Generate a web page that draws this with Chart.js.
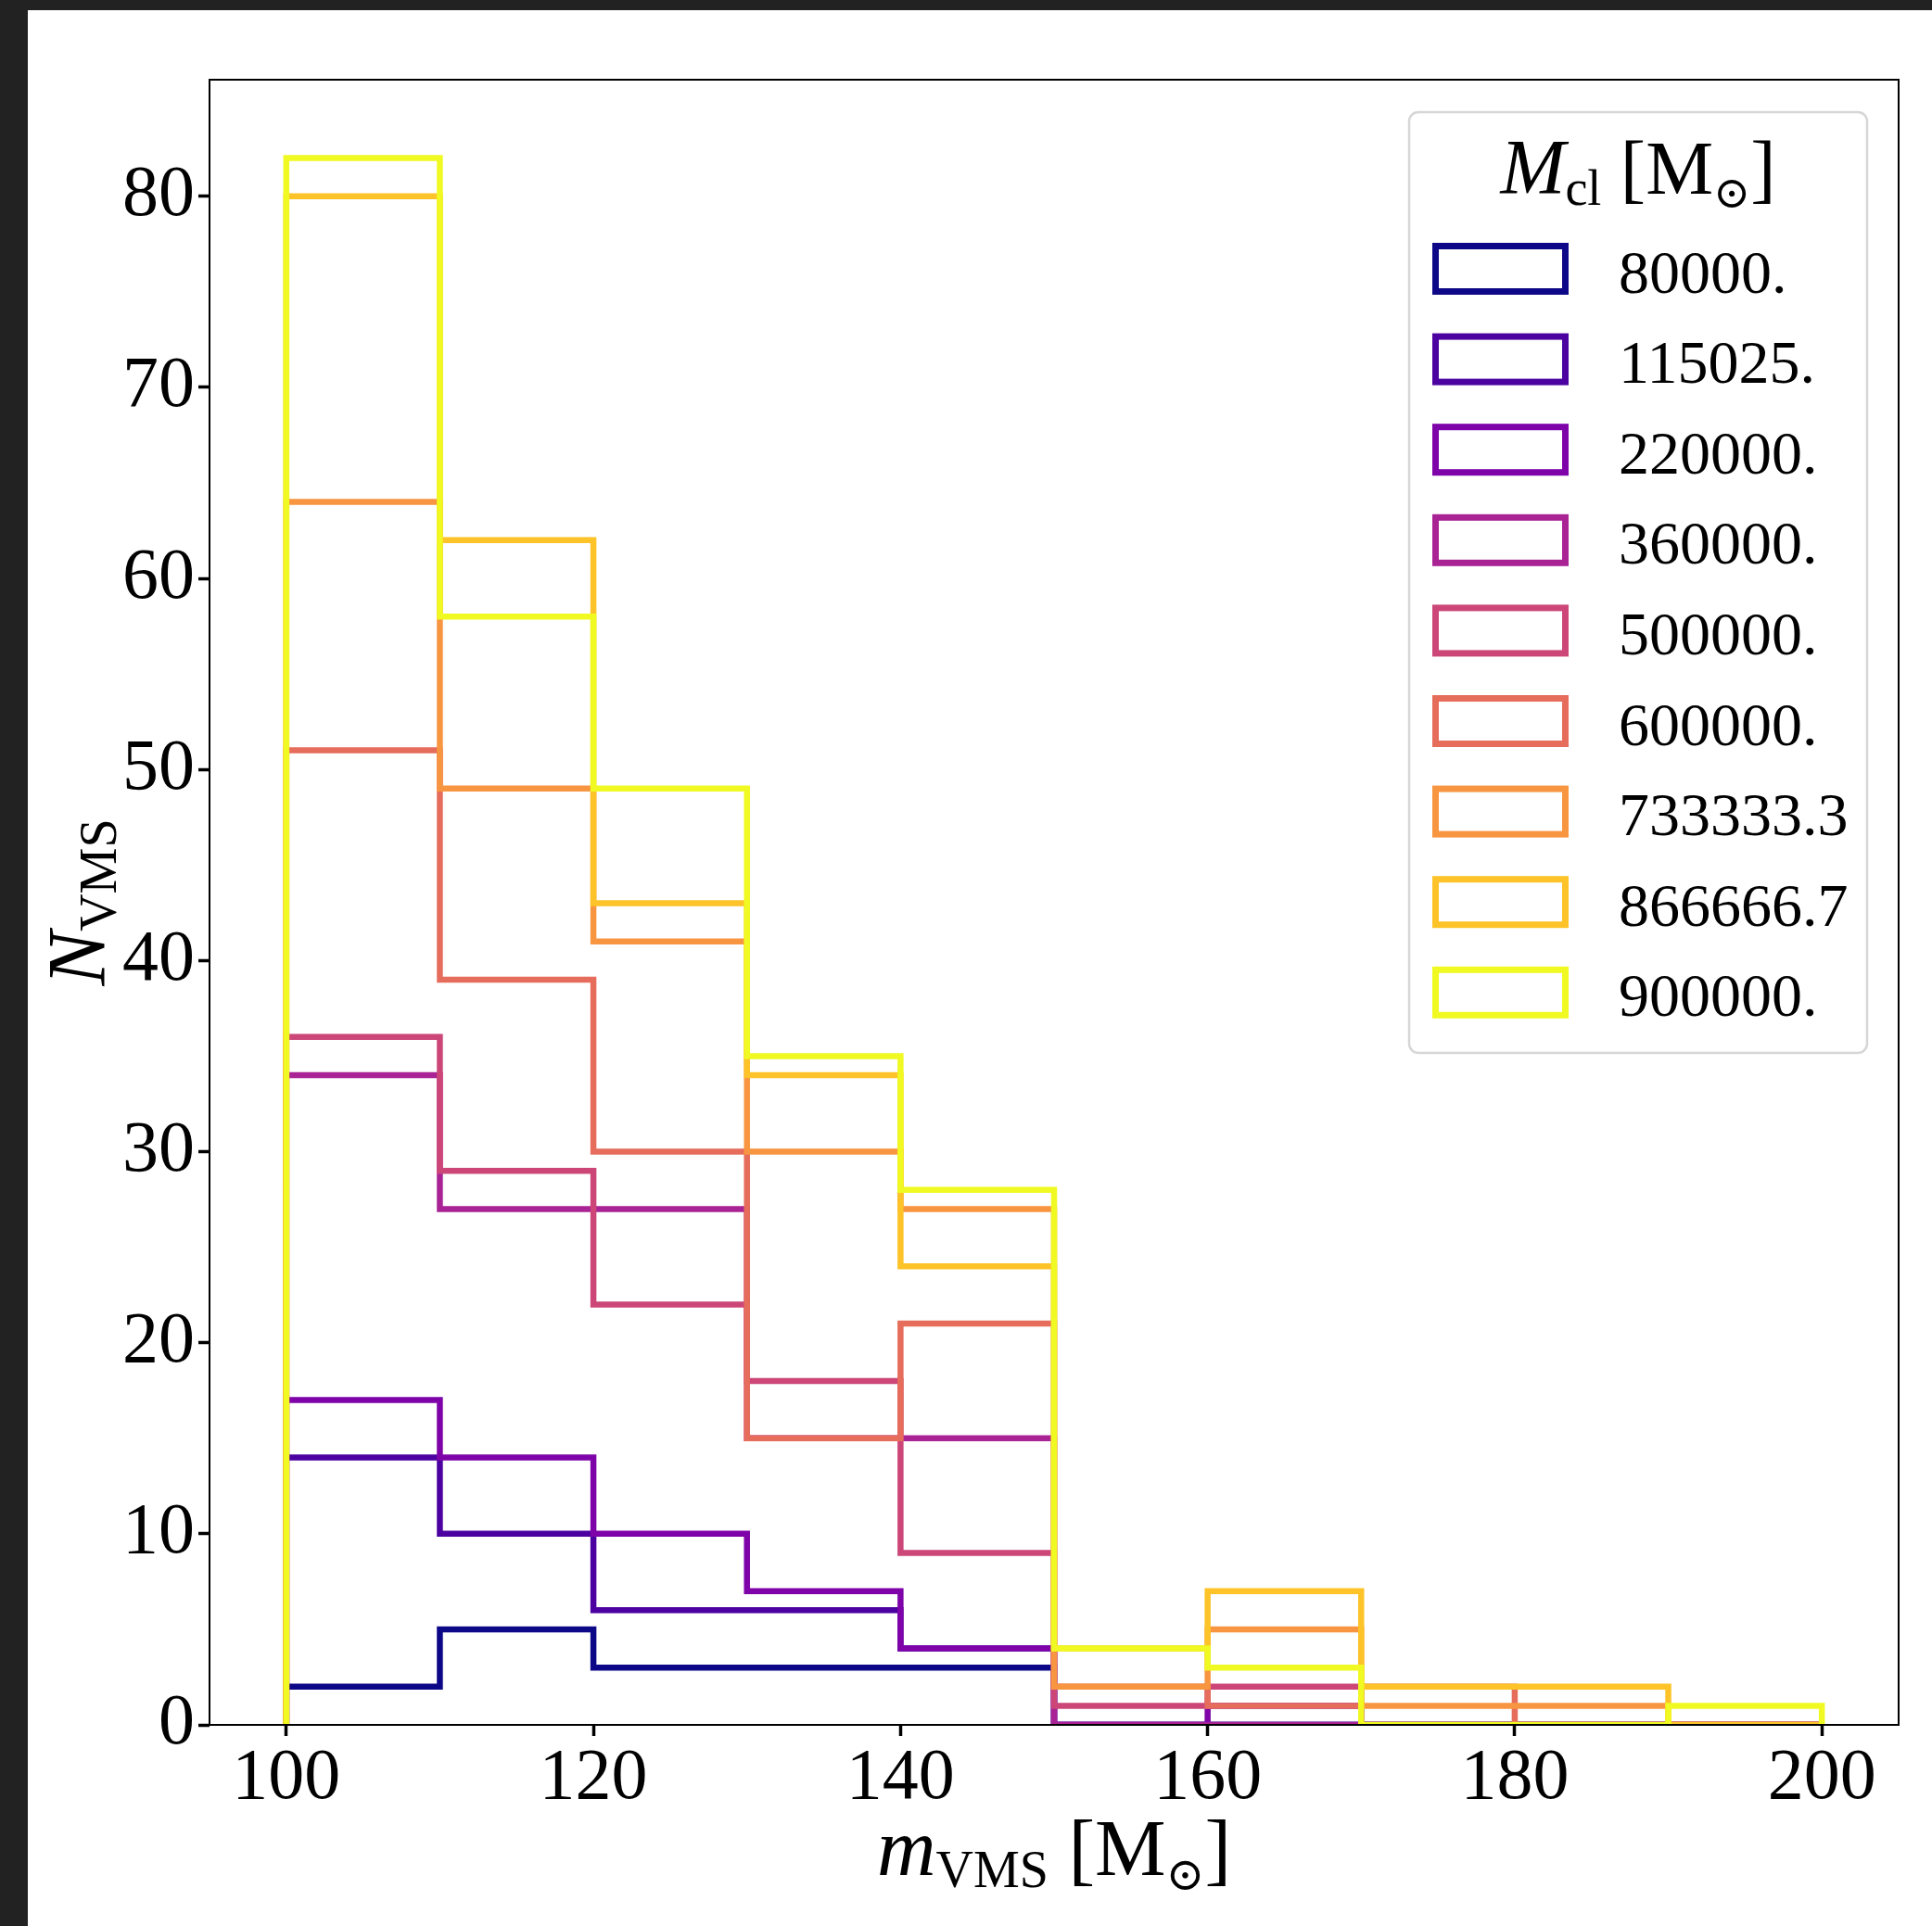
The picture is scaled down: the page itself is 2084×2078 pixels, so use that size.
<!DOCTYPE html>
<html>
<head>
<meta charset="utf-8">
<script src="https://cdn.jsdelivr.net/npm/chart.js@4.4.0/dist/chart.umd.min.js"></script>
<style>
  html, body { margin: 0; padding: 0; background: #222222; overflow: hidden; }
  #wrap { position: absolute; left: 30px; top: 11px; width: 2054px; height: 2067px; background: #ffffff; }
</style>
</head>
<body>
<div id="wrap"><canvas id="histChart"></canvas></div>
<script>
// histogram bins of the VMS mass (Msun)
var binEdges = [100, 110, 120, 130, 140, 150, 160, 170, 180, 190, 200];
var xTicks = [100, 120, 140, 160, 180, 200];
var yTicks = [0, 10, 20, 30, 40, 50, 60, 70, 80];

// one histogram per cluster mass
var clusterMasses = ['80000.', '115025.', '220000.', '360000.', '500000.', '600000.', '733333.3', '866666.7', '900000.'];
var plasmaColors = ['#0d0887', '#4c02a1', '#7e03a8', '#a92395', '#cc4778', '#e66c5c', '#f89540', '#fdc328', '#f0f921'];

var nVms80000  = [2, 5, 3, 3, 3, 0, 0, 0, 0, 0];
var nVms115025 = [14, 10, 6, 6, 4, 0, 0, 0, 0, 0];
var nVms220000 = [17, 14, 10, 7, 4, 0, 1, 0, 0, 0];
var nVms360000 = [34, 27, 27, 15, 15, 0, 0, 0, 0, 0];
var nVms500000 = [36, 29, 22, 18, 9, 1, 2, 0, 0, 0];
var nVms600000 = [51, 39, 30, 15, 21, 2, 1, 2, 0, 0];
var nVms733333 = [64, 49, 41, 30, 27, 2, 5, 1, 1, 0];
var nVms866667 = [80, 62, 43, 34, 24, 4, 7, 2, 2, 0];
var nVms900000 = [82, 58, 49, 35, 28, 4, 3, 0, 0, 1];

var allCounts = [nVms80000, nVms115025, nVms220000, nVms360000, nVms500000,
                 nVms600000, nVms733333, nVms866667, nVms900000];

var SERIF = "'Liberation Serif', 'DejaVu Serif', serif";

// outline of a step histogram: up at the first edge, across each bin, down at the last edge
function stepPoints(counts) {
    var pts = [{x: binEdges[0], y: 0}];
    for (var i = 0; i < counts.length; i++) {
        pts.push({x: binEdges[i], y: counts[i]});
    }
    pts.push({x: binEdges[binEdges.length - 1], y: 0});
    return pts;
}

var datasets = allCounts.map(function (counts, i) {
    return {
        label: clusterMasses[i],
        data: stepPoints(counts),
        borderColor: plasmaColors[i],
        backgroundColor: plasmaColors[i],
        borderWidth: 6.5,
        stepped: 'before',
        fill: false,
        pointRadius: 0,
        pointHoverRadius: 0,
        borderJoinStyle: 'miter',
        borderCapStyle: 'butt',
        clip: 0,
        order: allCounts.length - i   // later masses on top
    };
});

// text with subscript pieces, drawn along the baseline
function richWidth(ctx, parts) {
    var w = 0;
    parts.forEach(function (p) {
        ctx.font = (p.italic ? 'italic ' : '') + p.size + 'px ' + SERIF;
        w += ctx.measureText(p.t).width;
    });
    return w;
}
function drawRich(ctx, parts, x, y) {
    var cx = x - richWidth(ctx, parts) / 2;
    parts.forEach(function (p) {
        ctx.font = (p.italic ? 'italic ' : '') + p.size + 'px ' + SERIF;
        ctx.fillText(p.t, cx, y + (p.dy || 0));
        cx += ctx.measureText(p.t).width;
    });
}

var xTitle = [
    {t: 'm', size: 88, italic: true},
    {t: 'VMS', size: 56, dy: 13},
    {t: ' [M', size: 86},
    {t: '\u2299', size: 50, dy: 16},
    {t: ']', size: 86}
];
var yTitle = [
    {t: 'N', size: 88, italic: true},
    {t: 'VMS', size: 56, dy: 13}
];
var legendTitle = [
    {t: 'M', size: 84, italic: true},
    {t: 'cl', size: 54, dy: 12},
    {t: ' [M', size: 82},
    {t: '\u2299', size: 48, dy: 15},
    {t: ']', size: 82}
];

var framePlugin = {
    id: 'frame',
    afterDatasetsDraw: function (chart) {
        var a = chart.chartArea, ctx = chart.ctx;
        ctx.save();
        ctx.strokeStyle = '#000000';
        ctx.lineWidth = 2;
        ctx.strokeRect(a.left, a.top, a.right - a.left, a.bottom - a.top);
        ctx.restore();
    },
    afterDraw: function (chart) {
        var ctx = chart.ctx, a = chart.chartArea;
        ctx.save();
        ctx.fillStyle = '#000000';
        ctx.textAlign = 'left';
        ctx.textBaseline = 'alphabetic';
        // axis titles
        drawRich(ctx, xTitle, (a.left + a.right) / 2, 2012);
        ctx.save();
        ctx.translate(82, (a.top + a.bottom) / 2);
        ctx.rotate(-Math.PI / 2);
        drawRich(ctx, yTitle, 0, 0);
        ctx.restore();

        // legend box
        var bx = 1490, by = 110, bw = 494, bh = 1015, r = 10;
        ctx.beginPath();
        ctx.moveTo(bx + r, by);
        ctx.arcTo(bx + bw, by, bx + bw, by + bh, r);
        ctx.arcTo(bx + bw, by + bh, bx, by + bh, r);
        ctx.arcTo(bx, by + bh, bx, by, r);
        ctx.arcTo(bx, by, bx + bw, by, r);
        ctx.closePath();
        ctx.fillStyle = 'rgba(255,255,255,0.8)';
        ctx.fill();
        ctx.strokeStyle = '#d6d6d6';
        ctx.lineWidth = 2.5;
        ctx.stroke();

        ctx.fillStyle = '#000000';
        drawRich(ctx, legendTitle, bx + bw / 2, 198);

        var rowStep = 97.6;
        chart.data.datasets.forEach(function (ds, i) {
            var top = 254.5 + i * rowStep;
            ctx.strokeStyle = ds.borderColor;
            ctx.lineWidth = 7;
            ctx.lineJoin = 'miter';
            ctx.strokeRect(1518.5, top, 140, 49);
            ctx.fillStyle = '#000000';
            ctx.font = '66px ' + SERIF;
            ctx.fillText(ds.label, 1716, top + 50);
        });
        ctx.restore();
    }
};

var tickFont = {family: SERIF, size: 78};

new Chart(document.getElementById('histChart'), {
    type: 'line',
    data: {datasets: datasets},
    options: {
        responsive: true,
        maintainAspectRatio: false,
        devicePixelRatio: 1,
        animation: false,
        events: [],
        layout: {padding: {left: 0, top: 75, right: 36, bottom: 0}},
        plugins: {
            legend: {display: false},
            tooltip: {enabled: false}
        },
        scales: {
            x: {
                type: 'linear',
                min: 95,
                max: 205,
                afterBuildTicks: function (scale) {
                    scale.ticks = xTicks.map(function (v) { return {value: v}; });
                },
                afterFit: function (scale) { scale.height = 217; },
                grid: {display: true, drawOnChartArea: false, drawTicks: true,
                       tickLength: 12, tickWidth: 3.5, tickColor: '#000000'},
                border: {display: false},
                ticks: {font: tickFont, color: '#000000', padding: 0, maxRotation: 0,
                        callback: function (v) { return String(v); }}
            },
            y: {
                type: 'linear',
                min: 0,
                max: 86.1,
                afterBuildTicks: function (scale) {
                    scale.ticks = yTicks.map(function (v) { return {value: v}; });
                },
                afterFit: function (scale) { scale.width = 196; },
                grid: {display: true, drawOnChartArea: false, drawTicks: true,
                       tickLength: 12, tickWidth: 3.5, tickColor: '#000000'},
                border: {display: false},
                ticks: {font: tickFont, color: '#000000', padding: 4,
                        callback: function (v) { return String(v); }}
            }
        }
    },
    plugins: [framePlugin]
});
</script>
</body>
</html>
